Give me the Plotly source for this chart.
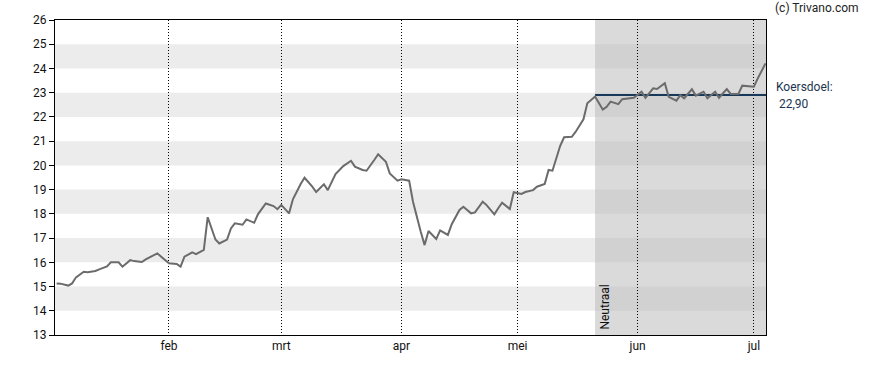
import plotly.graph_objects as go

# ---- data ----
dates = [
    "2024-01-03", "2024-01-04", "2024-01-06", "2024-01-07", "2024-01-08", "2024-01-10",
    "2024-01-11", "2024-01-13", "2024-01-14", "2024-01-16", "2024-01-17", "2024-01-19",
    "2024-01-20", "2024-01-22", "2024-01-23", "2024-01-25", "2024-01-26", "2024-01-28",
    "2024-01-29", "2024-01-30", "2024-02-01", "2024-02-03", "2024-02-04", "2024-02-05",
    "2024-02-07", "2024-02-08", "2024-02-10", "2024-02-11", "2024-02-13", "2024-02-14",
    "2024-02-16", "2024-02-17", "2024-02-18", "2024-02-20", "2024-02-21", "2024-02-23",
    "2024-02-24", "2024-02-26", "2024-02-28", "2024-02-29", "2024-03-01", "2024-03-03",
    "2024-03-04", "2024-03-06", "2024-03-07", "2024-03-09", "2024-03-10", "2024-03-12",
    "2024-03-13", "2024-03-15", "2024-03-16", "2024-03-17", "2024-03-19", "2024-03-20",
    "2024-03-22", "2024-03-23", "2024-03-25", "2024-03-26", "2024-03-28", "2024-03-29",
    "2024-03-31", "2024-04-01", "2024-04-03", "2024-04-04", "2024-04-06", "2024-04-07",
    "2024-04-08", "2024-04-10", "2024-04-11", "2024-04-13", "2024-04-14", "2024-04-16",
    "2024-04-17", "2024-04-19", "2024-04-20", "2024-04-22", "2024-04-23", "2024-04-25",
    "2024-04-26", "2024-04-27", "2024-04-29", "2024-04-30", "2024-05-02", "2024-05-03",
    "2024-05-05", "2024-05-06", "2024-05-08", "2024-05-09", "2024-05-10", "2024-05-12",
    "2024-05-13", "2024-05-15", "2024-05-16", "2024-05-18", "2024-05-19", "2024-05-21",
    "2024-05-23", "2024-05-24", "2024-05-25", "2024-05-27", "2024-05-28", "2024-05-30",
    "2024-05-31", "2024-06-02", "2024-06-03", "2024-06-05", "2024-06-06", "2024-06-08",
    "2024-06-09", "2024-06-11", "2024-06-12", "2024-06-13", "2024-06-15", "2024-06-16",
    "2024-06-18", "2024-06-19", "2024-06-21", "2024-06-22", "2024-06-24", "2024-06-25",
    "2024-06-27", "2024-06-28", "2024-06-30", "2024-07-01", "2024-07-02", "2024-07-04",
]
prices = [
    15.13, 15.12, 15.04, 15.13, 15.38, 15.61,
    15.59, 15.64, 15.71, 15.83, 16.00, 16.00,
    15.82, 16.09, 16.05, 16.01, 16.12, 16.31,
    16.37, 16.23, 15.96, 15.93, 15.82, 16.23,
    16.41, 16.34, 16.51, 17.86, 16.94, 16.78,
    16.94, 17.40, 17.61, 17.55, 17.77, 17.63,
    17.99, 18.43, 18.32, 18.19, 18.37, 18.02,
    18.60, 19.23, 19.49, 19.12, 18.90, 19.22,
    18.98, 19.64, 19.81, 19.97, 20.19, 19.95,
    19.81, 19.78, 20.22, 20.46, 20.15, 19.67,
    19.37, 19.43, 19.37, 18.50, 17.26, 16.71,
    17.29, 16.96, 17.32, 17.13, 17.57, 18.16,
    18.29, 18.02, 18.06, 18.50, 18.36, 17.98,
    18.23, 18.46, 18.20, 18.89, 18.82, 18.90,
    18.98, 19.12, 19.23, 19.81, 19.78, 20.81,
    21.16, 21.18, 21.39, 21.90, 22.56, 22.84,
    22.30, 22.42, 22.63, 22.53, 22.73, 22.77,
    22.79, 23.04, 22.79, 23.18, 23.15, 23.39,
    22.83, 22.67, 22.90, 22.77, 23.14, 22.88,
    23.04, 22.77, 23.04, 22.79, 23.15, 22.95,
    22.95, 23.29, 23.28, 23.25, 23.59, 24.21,
]
tick_dates = ["2024-02-01", "2024-03-01", "2024-04-01", "2024-05-01", "2024-06-01", "2024-07-01"]
tick_labels = ["feb", "mrt", "apr", "mei", "jun", "jul"]
band_lows = [14, 16, 18, 20, 22, 24]
target_value = 22.90
target_label = "22,90"
shade_start = "2024-05-21"
x_start = "2024-01-02 14:00"
x_end = "2024-07-04 03:00"

FONT = "Roboto, Arial, sans-serif"

fig = go.Figure()

# target line (Koersdoel)
fig.add_trace(go.Scatter(
    x=[shade_start, x_end], y=[target_value, target_value], mode="lines",
    line=dict(color="#173a5c", width=2), hoverinfo="skip", showlegend=False,
))
# price line
fig.add_trace(go.Scatter(
    x=dates, y=prices, mode="lines",
    line=dict(color="#6b6b6b", width=2), showlegend=False,
))

shapes = []
for lo in band_lows:
    shapes.append(dict(type="rect", xref="x domain", yref="y", x0=0, x1=1, y0=lo, y1=lo + 1,
                       fillcolor="#ececec", line=dict(width=0), layer="below"))
shapes.append(dict(type="rect", xref="x", yref="y", x0=shade_start, x1=x_end, y0=13, y1=26,
                   fillcolor="#dadada", line=dict(width=0), layer="below"))
for lo in band_lows:
    shapes.append(dict(type="rect", xref="x", yref="y", x0=shade_start, x1=x_end, y0=lo, y1=lo + 1,
                       fillcolor="#d1d1d1", line=dict(width=0), layer="below"))

annotations = [
    dict(text="(c) Trivano.com", xref="paper", yref="paper", x=1.0098, y=1.038,
         xanchor="left", yanchor="middle", showarrow=False, font=dict(size=12, color="#222222", family=FONT)),
    dict(text="Koersdoel:", xref="paper", yref="y", x=1.0115, y=23.23,
         xanchor="left", yanchor="middle", showarrow=False, font=dict(size=12, color="#1a3550", family=FONT)),
    dict(text=target_label, xref="paper", yref="y", x=1.0155, y=22.53,
         xanchor="left", yanchor="middle", showarrow=False, font=dict(size=12, color="#1a3550", family=FONT)),
    dict(text="Neutraal", xref="x", yref="y", x=shade_start, y=13, xshift=0, yshift=3,
         xanchor="left", yanchor="bottom", textangle=-90, showarrow=False,
         font=dict(size=12, color="#111111", family=FONT)),
]

fig.update_layout(
    width=888, height=370,
    margin=dict(l=55, r=122, t=20, b=35),
    paper_bgcolor="white", plot_bgcolor="white",
    font=dict(family=FONT, size=12, color="#111111"),
    shapes=shapes, annotations=annotations,
    showlegend=False,
)
fig.update_xaxes(
    type="date", range=[x_start, x_end],
    tickvals=tick_dates, ticktext=tick_labels, ticks="",
    showgrid=True, gridcolor="#000000", griddash="1px,2px", gridwidth=1,
    showline=True, linecolor="#000000", linewidth=1, mirror=True,
    zeroline=False, tickfont=dict(size=12, color="#111111"),
)
fig.update_yaxes(
    range=[13, 26], dtick=1, tick0=13, ticks="outside", ticklen=5, tickcolor="#000000",
    showgrid=False, showline=True, linecolor="#000000", linewidth=1, mirror=True,
    zeroline=False, tickfont=dict(size=12, color="#111111"),
)

fig.write_html(
    "out.html",
    config={"displayModeBar": False, "staticPlot": True},
    post_script="document.body.style.margin='0px';document.body.style.overflow='hidden';",
)
